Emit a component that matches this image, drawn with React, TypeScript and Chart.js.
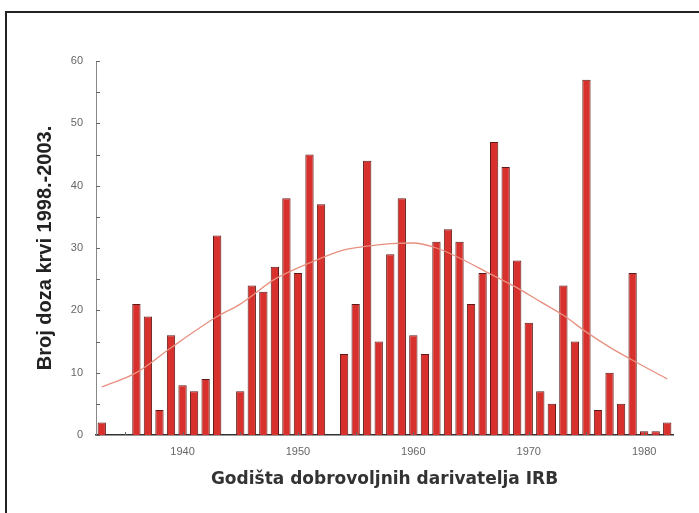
import React, { useEffect, useRef } from "react";
import { Chart, registerables } from "chart.js";

Chart.register(...registerables);

// Birth years of donors (x categories)
const years = [
  1933, 1934, 1935, 1936, 1937, 1938, 1939, 1940, 1941, 1942,
  1943, 1944, 1945, 1946, 1947, 1948, 1949, 1950, 1951, 1952,
  1953, 1954, 1955, 1956, 1957, 1958, 1959, 1960, 1961, 1962,
  1963, 1964, 1965, 1966, 1967, 1968, 1969, 1970, 1971, 1972,
  1973, 1974, 1975, 1976, 1977, 1978, 1979, 1980, 1981, 1982,
];

// Number of blood doses 1998-2003 per birth year
const doses: (number | null)[] = [
  2, null, null, 21, 19, 4, 16, 8, 7, 9,
  32, null, 7, 24, 23, 27, 38, 26, 45, 37,
  null, 13, 21, 44, 15, 29, 38, 16, 13, 31,
  33, 31, 21, 26, 47, 43, 28, 18, 7, 5,
  24, 15, 57, 4, 10, 5, 26, 0.6, 0.6, 2,
];

// Fitted (smooth) curve
const fitYears = [1933, 1936, 1939, 1943, 1945, 1948, 1951, 1954, 1956, 1958, 1960, 1962, 1964, 1966.5, 1969, 1971, 1973, 1975, 1977, 1979, 1982];
const fitValues = [7.7, 10, 14, 19, 21, 25, 27.6, 29.7, 30.3, 30.7, 30.8, 30, 28.4, 26, 23.6, 21.4, 19.2, 16.5, 14.1, 12, 9];

// Tick marks
const xTickValues = [1935, 1940, 1945, 1950, 1955, 1960, 1965, 1970, 1975, 1980];
const yTickValues = [0, 5, 10, 15, 20, 25, 30, 35, 40, 45, 50, 55, 60];

const yTitle = "Broj doza krvi 1998.-2003.";
const xTitle = "Godišta dobrovoljnih darivatelja IRB";

const inwardTicks = {
  id: "inwardTicks",
  afterDatasetsDraw(chart: any) {
    const { ctx, chartArea, scales } = chart;
    const x = scales.x;
    const y = scales.y;
    ctx.save();
    ctx.strokeStyle = "#666";
    ctx.lineWidth = 1;
    ctx.beginPath();
    yTickValues.forEach((v) => {
      const py = Math.round(y.getPixelForValue(v)) + 0.5;
      ctx.moveTo(chartArea.left, py);
      ctx.lineTo(chartArea.left + 4, py);
    });
    xTickValues.forEach((v) => {
      const px = Math.round(x.getPixelForValue(v)) + 0.5;
      ctx.moveTo(px, chartArea.bottom);
      ctx.lineTo(px, chartArea.bottom - 3);
    });
    ctx.stroke();
    ctx.restore();
  },
};

export default function App() {
  const canvasRef = useRef<HTMLCanvasElement | null>(null);

  useEffect(() => {
    document.body.style.margin = "0";
    const canvas = canvasRef.current;
    if (!canvas) return;
    const barData = years.map((yr, i) => ({ x: yr, y: doses[i] }));
    const lineData = fitYears.map((yr, i) => ({ x: yr, y: fitValues[i] }));

    const chart = new Chart(canvas, {
      type: "bar",
      data: {
        datasets: [
          {
            type: "line",
            data: lineData,
            borderColor: "#e89080",
            borderWidth: 1.3,
            pointRadius: 0,
            tension: 0.4,
            cubicInterpolationMode: "monotone",
            fill: false,
            order: 0,
          } as any,
          {
            type: "bar",
            data: barData as any,
            backgroundColor: "#d8302c",
            borderColor: "#5e1a18",
            borderWidth: 1,
            barPercentage: 0.72,
            categoryPercentage: 1,
            order: 1,
          },
        ],
      },
      options: {
        responsive: false,
        animation: false,
        devicePixelRatio: 1,
        layout: { padding: { left: 0, top: 61, right: 26, bottom: 0 } },
        plugins: {
          legend: { display: false },
          tooltip: { enabled: false },
        },
        scales: {
          x: {
            type: "linear",
            min: 1932.5,
            max: 1982.5,
            offset: false,
            afterFit: (s: any) => {
              s.height = 78;
            },
            afterBuildTicks: (s: any) => {
              s.ticks = xTickValues.map((v) => ({ value: v }));
            },
            grid: { display: false, drawTicks: false, offset: false },
            border: { display: true, color: "#333", width: 1.5 },
            ticks: {
              autoSkip: false,
              maxRotation: 0,
              padding: 10,
              color: "#666",
              font: { family: "Liberation Sans", size: 11 },
              callback: (v: any) => (Number(v) % 10 === 0 ? String(v) : ""),
            },
            title: {
              display: true,
              text: xTitle,
              color: "#333",
              font: { family: "DejaVu Sans", size: 17, weight: "bold" },
              padding: { top: 0, bottom: 23 },
            },
          },
          y: {
            min: 0,
            max: 60,
            afterFit: (s: any) => {
              s.width = 96;
            },
            grid: { display: false, drawTicks: false },
            border: { display: true, color: "#888", width: 1 },
            ticks: {
              stepSize: 5,
              padding: 13,
              color: "#666",
              font: { family: "Liberation Sans", size: 11 },
              callback: (v: any) => (Number(v) % 10 === 0 ? String(v) : ""),
            },
            title: {
              display: true,
              text: yTitle,
              color: "#222",
              font: { family: "Liberation Sans", size: 20, weight: "bold" },
              padding: { top: 33, bottom: 0 },
            },
          },
        },
      },
      plugins: [inwardTicks],
    });
    return () => chart.destroy();
  }, []);

  return (
    <div
      style={{
        position: "fixed",
        left: 0,
        top: 0,
        width: 699,
        height: 513,
        overflow: "hidden",
        background: "#fff",
      }}
    >
      <div
        style={{
          position: "absolute",
          left: 5,
          top: 11,
          width: 800,
          height: 700,
          border: "2px solid #222",
        }}
      />
      <canvas
        ref={canvasRef}
        width={699}
        height={513}
        style={{ position: "absolute", left: 0, top: 0, width: 699, height: 513 }}
      />
    </div>
  );
}
